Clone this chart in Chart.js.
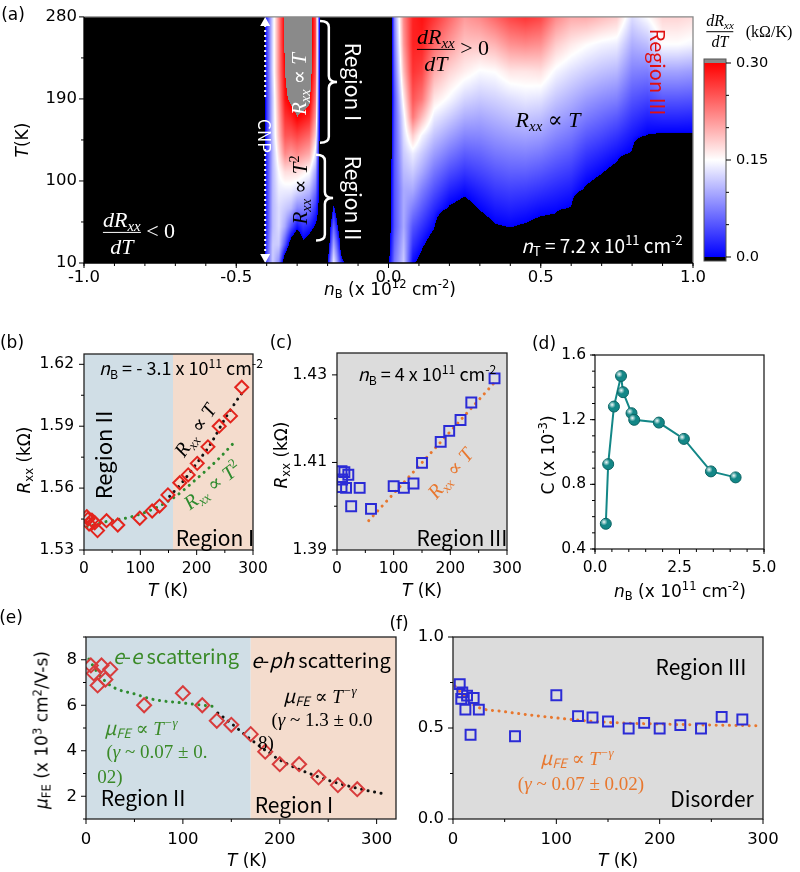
<!DOCTYPE html>
<html>
<head>
<meta charset="utf-8">
<script src="https://cdn.jsdelivr.net/npm/chart.js@4.4.1/dist/chart.umd.min.js"></script>
<style>
  html, body { margin: 0; padding: 0; background: #fff; }
  #page { position: relative; width: 800px; height: 872px; overflow: hidden; }
  #page canvas { position: absolute; left: 0; top: 0; }
  .t { position: absolute; white-space: nowrap; line-height: 1; transform: translate(-50%, -50%);
       font-family: 'DejaVu Sans', sans-serif; font-size: 17px; color: #000; }
  .r90  { transform: translate(-50%, -50%) rotate(90deg); }
  .rm90 { transform: translate(-50%, -50%) rotate(-90deg); }
  .k { font-family: 'Noto Sans CJK KR', 'Noto Sans', sans-serif; }
  .m { font-family: 'Liberation Serif', 'DejaVu Serif', serif; font-style: italic; }
  .u { font-style: normal; }
  .t sub { font-size: .68em; vertical-align: -.3em; line-height: 0; }
  .t sup { font-size: .68em; vertical-align: .55em; line-height: 0; }
  .frac { display: inline-flex; flex-direction: column; align-items: center; vertical-align: middle; line-height: 1.05; }
  .frac .den { border-top: 1.5px solid currentColor; padding-top: 2px; margin-top: 1px; align-self: stretch; text-align: center; }
</style>
</head>
<body>
<div id="page">
  <canvas id="cA"  width="800" height="872"></canvas>
  <canvas id="cCB" width="800" height="872"></canvas>
  <canvas id="cB"  width="800" height="872"></canvas>
  <canvas id="cC"  width="800" height="872"></canvas>
  <canvas id="cD"  width="800" height="872"></canvas>
  <canvas id="cE"  width="800" height="872"></canvas>
  <canvas id="cF"  width="800" height="872"></canvas>

  <!-- (a) -->
  <div class="t" style="left:13px;top:14px">(a)</div>
  <div class="t rm90" style="left:22px;top:140px"><i>T</i>(K)</div>
  <div class="t" style="left:390px;top:289px"><i>n</i><sub>B</sub> (x 10<sup>12</sup> cm<sup>-2</sup>)</div>
  <div class="t k r90" style="left:265px;top:136px;color:#fff;font-size:17px">CNP</div>
  <div class="t m rm90" style="left:299px;top:84px;color:#fff;font-size:21px">R<sub>xx</sub> <span class="u">∝</span> T</div>
  <div class="t m rm90" style="left:300px;top:190px;color:#000;font-size:21px">R<sub>xx</sub> <span class="u">∝</span> T<sup class="u">2</sup></div>
  <div class="t k r90" style="left:353px;top:82px;color:#fff;font-size:21px">Region I</div>
  <div class="t k r90" style="left:353px;top:198px;color:#fff;font-size:21px">Region II</div>
  <div class="t m" style="left:139px;top:233px;color:#fff;font-size:22px"><span class="frac"><span>dR<sub>xx</sub></span><span class="den">dT</span></span> <span class="u">&lt; 0</span></div>
  <div class="t m" style="left:453px;top:50px;color:#000;font-size:22px"><span class="frac"><span>dR<sub>xx</sub></span><span class="den">dT</span></span> <span class="u">&gt; 0</span></div>
  <div class="t m" style="left:548px;top:120px;color:#000;font-size:22px">R<sub>xx</sub> <span class="u">∝</span> T</div>
  <div class="t k r90" style="left:658px;top:72px;color:#e01010;font-size:20px">Region III</div>
  <div class="t k" style="left:602px;top:244px;color:#fff;font-size:19px"><i>n</i><sub>T</sub> = 7.2 x 10<sup>11</sup> cm<sup>-2</sup></div>
  <div class="t m" style="left:720px;top:32px;font-size:16px"><span class="frac"><span>dR<sub>xx</sub></span><span class="den">dT</span></span></div>
  <div class="t" style="left:769px;top:32px;font-size:16px;font-family:'Liberation Serif',serif">(kΩ/K)</div>

  <!-- (b) -->
  <div class="t" style="left:12px;top:342px">(b)</div>
  <div class="t rm90" style="left:24px;top:460px"><i>R</i><sub>xx</sub> (kΩ)</div>
  <div class="t" style="left:168px;top:590px"><i>T</i> (K)</div>
  <div class="t k" style="left:181px;top:367px;font-size:18px"><i>n</i><sub>B</sub> = - 3.1 x 10<sup>11</sup> cm<sup>-2</sup></div>
  <div class="t k rm90" style="left:102px;top:455px;font-size:22px">Region II</div>
  <div class="t m" style="left:195px;top:430px;font-size:20px;transform:translate(-50%,-50%) rotate(-56deg)">R<sub>xx</sub> <span class="u">∝</span> T</div>
  <div class="t m" style="left:212px;top:485px;font-size:20px;color:#2e8b2e;transform:translate(-50%,-50%) rotate(-37deg)">R<sub>xx</sub> <span class="u">∝</span> T<sup class="u">2</sup></div>
  <div class="t k" style="left:215px;top:537px;font-size:21px">Region I</div>

  <!-- (c) -->
  <div class="t" style="left:281px;top:342px">(c)</div>
  <div class="t rm90" style="left:281px;top:455px"><i>R</i><sub>xx</sub> (kΩ)</div>
  <div class="t" style="left:422px;top:590px"><i>T</i> (K)</div>
  <div class="t k" style="left:427px;top:373px;font-size:18px"><i>n</i><sub>B</sub> = 4 x 10<sup>11</sup> cm<sup>-2</sup></div>
  <div class="t m" style="left:450px;top:473px;font-size:20px;color:#e8772e;transform:translate(-50%,-50%) rotate(-50deg)">R<sub>xx</sub> <span class="u">∝</span> T</div>
  <div class="t k" style="left:462px;top:537px;font-size:21px">Region III</div>

  <!-- (d) -->
  <div class="t" style="left:544px;top:343px">(d)</div>
  <div class="t rm90" style="left:548px;top:455px">C (x 10<sup>-3</sup>)</div>
  <div class="t" style="left:680px;top:591px"><i>n</i><sub>B</sub> (x 10<sup>11</sup> cm<sup>-2</sup>)</div>

  <!-- (e) -->
  <div class="t" style="left:11px;top:617px">(e)</div>
  <div class="t rm90" style="left:42px;top:730px"><i>μ</i><sub>FE</sub> (x 10<sup>3</sup> cm<sup>2</sup>/V-s)</div>
  <div class="t" style="left:247px;top:860px"><i>T</i> (K)</div>
  <div class="t k" style="left:176px;top:656px;font-size:20px;color:#3a8a28"><i>e</i>-<i>e</i> scattering</div>
  <div class="t k" style="left:321px;top:660px;font-size:20px"><i>e</i>-<i>ph</i> scattering</div>
  <div class="t m" style="left:320px;top:695px;font-size:19px"><span class="k">μ<sub>FE</sub></span> <span class="u">∝</span> T<sup>−γ</sup></div>
  <div class="t m" style="left:322px;top:719px;font-size:19px"><span class="u">(</span>γ <span class="u">~ 1.3 ± 0.0</span></div>
  <div class="t m" style="left:266px;top:742px;font-size:19px"><span class="u">8)</span></div>
  <div class="t m" style="left:141px;top:727px;font-size:19px;color:#3a8a28"><span class="k">μ<sub>FE</sub></span> <span class="u">∝</span> T<sup>−γ</sup></div>
  <div class="t m" style="left:157px;top:751px;font-size:19px;color:#3a8a28"><span class="u">(</span>γ <span class="u">~ 0.07 ± 0.</span></div>
  <div class="t m" style="left:110px;top:776px;font-size:19px;color:#3a8a28"><span class="u">02)</span></div>
  <div class="t k" style="left:143px;top:797px;font-size:21px">Region II</div>
  <div class="t k" style="left:294px;top:804px;font-size:21px">Region I</div>

  <!-- (f) -->
  <div class="t" style="left:399px;top:623px">(f)</div>
  <div class="t" style="left:618px;top:860px"><i>T</i> (K)</div>
  <div class="t k" style="left:701px;top:666px;font-size:21px">Region III</div>
  <div class="t m" style="left:577px;top:757px;font-size:19px;color:#e8772e"><span class="k">μ<sub>FE</sub></span> <span class="u">∝</span> T<sup>−γ</sup></div>
  <div class="t m" style="left:581px;top:783px;font-size:19px;color:#e8772e"><span class="u">(</span>γ <span class="u">~ 0.07 ± 0.02)</span></div>
  <div class="t k" style="left:712px;top:798px;font-size:21px">Disorder</div>
</div>

<script>
/* ── (a) dR/dT colour map ─────────────────────────────────────── */
// nB columns (x 10^12 cm^-2) and T rows (K); mapV[col][row] in kΩ/K, < 0 shows black
const mapN = [-1.0, -0.42, -0.41, -0.40, -0.38, -0.36, -0.34, -0.32, -0.30, -0.28, -0.26, -0.24, -0.225,
              -0.21, -0.20, -0.19, -0.18, -0.17, -0.16, -0.14, -0.13, 0.0, 0.02, 0.05, 0.08, 0.11, 0.15,
              0.2, 0.25, 0.3, 0.35, 0.4, 0.45, 0.5, 0.55, 0.6, 0.65, 0.7, 0.75, 0.8, 0.85, 0.9, 0.95, 1.0];
const mapT = [10, 30, 50, 70, 90, 110, 130, 150, 170, 190, 220, 250, 280];
const mapV = [
  [-.3, -.3, -.3, -.3, -.3, -.3, -.3, -.3, -.3, -.3, -.3, -.3, -.3],
  [-.3, -.3, -.3, -.3, -.3, -.3, -.3, -.3, -.3, -.3, -.3, -.3, -.3],
  [-.04, -.04, -.04, -.04, -.04, -.04, -.04, -.04, -.04, -.04, -.04, -.04, -.04],
  [.05, .04, .03, .03, .03, .03, .03, .03, .03, .03, .03, .03, .03],
  [.12, .12, .11, .11, .11, .11, .11, .12, .12, .12, .13, .13, .13],
  [.08, .12, .13, .13, .14, .15, .17, .19, .20, .21, .22, .22, .22],
  [-.05, .05, .10, .12, .14, .17, .22, .25, .27, .29, .30, .31, .31],
  [-.10, -.03, .05, .11, .14, .17, .21, .25, .28, .31, .33, .33, .33],
  [-.10, -.06, .01, .08, .13, .17, .22, .26, .30, .32, .34, .34, .34],
  [-.10, -.01, .03, .08, .12, .16, .21, .25, .29, .32, .34, .35, .35],
  [-.10, -.03, .02, .07, .11, .15, .20, .24, .28, .31, .33, .34, .34],
  [-.10, -.05, -.005, .03, .07, .10, .14, .18, .21, .23, .25, .26, .26],
  [-.2, -.1, -.02, -.02, -.02, -.02, -.02, -.02, -.02, -.02, -.02, -.02, -.02],
  [-.2, -.2, -.2, -.2, -.2, -.2, -.2, -.2, -.2, -.2, -.2, -.2, -.2],
  [0, -.05, -.2, -.2, -.2, -.2, -.2, -.2, -.2, -.2, -.2, -.2, -.2],
  [.08, .04, .01, -.05, -.2, -.2, -.2, -.2, -.2, -.2, -.2, -.2, -.2],
  [.14, .10, .06, .015, -.05, -.2, -.2, -.2, -.2, -.2, -.2, -.2, -.2],
  [.10, .06, .02, -.03, -.2, -.2, -.2, -.2, -.2, -.2, -.2, -.2, -.2],
  [.05, .01, -.03, -.2, -.2, -.2, -.2, -.2, -.2, -.2, -.2, -.2, -.2],
  [-.01, -.2, -.2, -.2, -.2, -.2, -.2, -.2, -.2, -.2, -.2, -.2, -.2],
  [-.2, -.2, -.2, -.2, -.2, -.2, -.2, -.2, -.2, -.2, -.2, -.2, -.2],
  [-.008, -.02, -.03, -.035, -.04, -.045, -.05, -.06, -.07, -.08, -.09, -.10, -.12],
  [.07, .06, .05, .05, .05, .05, .05, .05, .05, .05, .06, .07, .08],
  [.12, .11, .10, .10, .10, .11, .12, .13, .14, .16, .19, .21, .22],
  [.005, .03, .05, .075, .10, .12, .14, .18, .23, .25, .27, .28, .28],
  [-.016, .007, .03, .053, .075, .10, .12, .145, .19, .23, .26, .28, .29],
  [-.2, -.025, .003, .025, .048, .07, .093, .116, .139, .165, .20, .24, .27],
  [-.2, -.2, -.1, -.004, .021, .046, .071, .096, .121, .146, .175, .21, .24],
  [-.2, -.2, -.1, -.015, .008, .032, .055, .079, .103, .126, .16, .185, .21],
  [-.2, -.15, -.018, .002, .021, .041, .06, .08, .099, .119, .148, .185, .22],
  [-.2, -.1, -.003, .015, .033, .051, .07, .088, .106, .124, .151, .195, .24],
  [-.2, -.019, .001, .02, .038, .057, .075, .094, .113, .131, .165, .215, .26],
  [-.2, -.1, -.004, .016, .036, .057, .077, .097, .117, .137, .165, .22, .27],
  [-.2, -.15, -.012, .009, .03, .051, .072, .093, .113, .134, .168, .215, .26],
  [-.2, -.15, -.014, .005, .023, .042, .061, .08, .098, .117, .145, .18, .22],
  [-.2, -.2, -.1, -.002, .016, .034, .052, .07, .088, .105, .132, .163, .20],
  [-.2, -.2, -.2, -.1, -.006, .014, .033, .053, .073, .092, .122, .152, .20],
  [-.2, -.2, -.2, -.1, -.018, .002, .022, .043, .063, .083, .114, .144, .19],
  [-.2, -.2, -.2, -.2, -.1, -.012, .010, .031, .053, .076, .108, .14, .18],
  [-.2, -.2, -.2, -.2, -.2, -.1, -.0035, .014, .032, .05, .077, .103, .13],
  [-.2, -.2, -.2, -.2, -.2, -.2, -.1, -.001, .02, .041, .074, .112, .15],
  [-.2, -.2, -.2, -.2, -.2, -.2, -.1, -.004, .024, .052, .096, .150, .175],
  [-.2, -.2, -.2, -.2, -.2, -.2, -.1, -.004, .024, .052, .096, .150, .175],
  [-.2, -.2, -.2, -.2, -.2, -.2, -.1, -.004, .022, .05, .092, .145, .17]
];
const cbTicks = [0, 0.15, 0.30];

/* ── (b) Rxx vs T at nB = -3.1e11 ─────────────────────────────── */
const bT    = [5, 7, 9, 14, 19, 24, 40, 60, 99, 121, 134, 149, 170, 185, 201, 220, 240, 260, 280];
const bR    = [1.5462, 1.5450, 1.5426, 1.5445, 1.5432, 1.5394, 1.5442, 1.5421, 1.5454, 1.5489, 1.5513,
               1.5567, 1.5626, 1.5664, 1.5720, 1.5800, 1.5900, 1.5950, 1.6089];
const bLinT = [152, 175, 200, 225, 250, 275, 285];
const bLinR = [1.5560, 1.5630, 1.5720, 1.5815, 1.5935, 1.6040, 1.6078];
const bSqT  = [5, 40, 80, 120, 160, 200, 240, 265];
const bSqR  = [1.5412, 1.5438, 1.5458, 1.5495, 1.5555, 1.5645, 1.5745, 1.5817];
const bRegionEdge = 158;

/* ── (c) Rxx vs T at nB = 4e11 ────────────────────────────────── */
const cT    = [8, 13, 9, 8, 20, 16, 25, 40, 60, 100, 118, 135, 150, 183, 198, 218, 237, 278];
const cR    = [1.4080, 1.4078, 1.4061, 1.4044, 1.4072, 1.4042, 1.4000, 1.4042, 1.3994, 1.4046, 1.4042,
               1.4052, 1.4099, 1.4147, 1.4172, 1.4197, 1.4237, 1.4292];
const cFitT = [56, 170, 281];
const cFitR = [1.3967, 1.4128, 1.4287];

/* ── (d) C vs nB ──────────────────────────────────────────────── */
const dN = [0.32, 0.39, 0.56, 0.77, 0.83, 1.08, 1.16, 1.89, 2.63, 3.43, 4.16];
const dC = [0.556, 0.925, 1.281, 1.470, 1.370, 1.240, 1.199, 1.182, 1.081, 0.880, 0.843];

/* ── (e) mobility, nB = -3.1e11 ───────────────────────────────── */
const eT    = [5, 8, 16, 12, 20, 25, 60, 100, 120, 135, 150, 170, 185, 200, 220, 240, 260, 280];
const eMu   = [7.75, 7.40, 7.75, 6.87, 7.13, 7.58, 6.00, 6.53, 6.00, 5.32, 5.14, 4.73, 3.96, 3.41, 3.41, 2.83, 2.49, 2.31];
const eEeT  = [3, 10, 20, 30, 50, 70, 100, 135];
const eEeMu = [8.03, 7.55, 7.05, 6.75, 6.50, 6.25, 6.10, 5.93];
const ePhT  = [136, 150, 170, 200, 240, 280, 308];
const ePhMu = [5.66, 5.20, 4.50, 3.60, 2.85, 2.35, 2.10];
const eRegionEdge = 170;

/* ── (f) mobility, nB = 4e11 ──────────────────────────────────── */
const fT    = [6.5, 9, 8, 13.6, 12, 20, 25, 17, 60, 100, 121, 135, 150, 170, 185, 200, 220, 240, 260, 280];
const fMu   = [0.741, 0.696, 0.660, 0.678, 0.601, 0.665, 0.601, 0.463, 0.455, 0.680, 0.565, 0.558, 0.536,
               0.497, 0.528, 0.497, 0.516, 0.497, 0.561, 0.547];
const fFitT  = [2, 10, 22, 50, 77, 142, 206, 295];
const fFitMu = [0.73, 0.68, 0.62, 0.59, 0.57, 0.534, 0.521, 0.512];

/* ── colours ──────────────────────────────────────────────────── */
const RED = '#e3241d', BLUE = '#2b2bd6', ERED = '#d83c3c', TEAL = '#138787';
const GREEN = '#2e8b2e', ORANGE = '#e8772e', BLACK = '#111';
const REGION2 = '#d0dee6', REGION1 = '#f4dccd', GREY = '#dcdcdc';

/* ── helpers ──────────────────────────────────────────────────── */
const pts = (xs, ys) => xs.map((v, i) => ({ x: v, y: ys[i] }));

function steps(min, max, step) {
  const out = [];
  for (let v = min; v <= max + 1e-9; v += step) out.push(+v.toFixed(6));
  return out;
}

function axis(o) {
  return {
    type: 'linear', position: o.pos, min: o.min, max: o.max, display: !o.hidden,
    grid: { display: false, drawTicks: false }, border: { display: false },
    afterBuildTicks: s => { s.ticks = o.labels.map(v => ({ value: v })); },
    afterFit: s => { if (o.pos === 'left' || o.pos === 'right') s.width = o.size; else s.height = o.size; },
    ticks: { padding: o.pad, color: '#000', autoSkip: false, maxRotation: 0,
             font: { family: 'DejaVu Sans', size: o.font }, callback: o.fmt }
  };
}

function markers(xs, ys, style, color, r) {
  return { data: pts(xs, ys), showLine: false, pointStyle: style, pointRadius: r,
           pointBorderColor: color, pointBorderWidth: 2, pointBackgroundColor: 'rgba(0,0,0,0)' };
}

function dotted(xs, ys, color) {
  return { data: pts(xs, ys), showLine: true, pointRadius: 0, borderColor: color, borderWidth: 3,
           borderDash: [0.1, 6.5], borderCapStyle: 'round', cubicInterpolationMode: 'monotone' };
}

// frame, shaded bands and outward tick marks (major + minor)
function framePlugin(spec) {
  return {
    id: 'frame',
    beforeDatasetsDraw(chart) {
      const { ctx, chartArea: a, scales: { x } } = chart;
      (spec.bands || []).forEach(b => {
        const x0 = x.getPixelForValue(b.from), x1 = x.getPixelForValue(b.to);
        ctx.fillStyle = b.color;
        ctx.fillRect(x0, a.top, x1 - x0, a.bottom - a.top);
      });
    },
    afterDatasetsDraw(chart) {
      const { ctx, chartArea: a, scales: { x, y } } = chart;
      ctx.save();
      ctx.lineWidth = 1.3;
      if (spec.heat) {
        ctx.strokeStyle = '#888';
        ctx.beginPath();
        ctx.moveTo(a.left, a.top); ctx.lineTo(a.right, a.top); ctx.lineTo(a.right, a.bottom);
        ctx.stroke();
        ctx.strokeStyle = '#000';
        ctx.beginPath();
        ctx.moveTo(a.left, a.top); ctx.lineTo(a.left, a.bottom); ctx.lineTo(a.right, a.bottom);
        ctx.stroke();
      } else {
        ctx.strokeStyle = '#222';
        ctx.strokeRect(a.left, a.top, a.right - a.left, a.bottom - a.top);
      }
      ctx.strokeStyle = '#000';
      ctx.lineWidth = 1;
      const tick = (px, py, dx, dy) => { ctx.beginPath(); ctx.moveTo(px, py); ctx.lineTo(px + dx, py + dy); ctx.stroke(); };
      spec.xMinor.forEach(v => tick(x.getPixelForValue(v), a.bottom, 0, 3));
      spec.xMajor.forEach(v => tick(x.getPixelForValue(v), a.bottom, 0, 5));
      spec.yMinor.forEach(v => tick(a.left, y.getPixelForValue(v), -3, 0));
      spec.yMajor.forEach(v => tick(a.left, y.getPixelForValue(v), -5, 0));
      ctx.restore();
    }
  };
}

function makeChart(id, box, xa, ya, datasets, plugins) {
  const right = ya.pos === 'right';
  return new Chart(document.getElementById(id), {
    type: 'scatter',
    data: { datasets },
    options: {
      responsive: false, animation: false, events: [],
      layout: { padding: {
        left: right ? box.l : box.l - ya.size,
        right: right ? 800 - box.r - ya.size : 800 - box.r,
        top: box.t,
        bottom: xa.hidden ? 872 - box.b : 872 - box.b - xa.size
      } },
      plugins: { legend: { display: false }, tooltip: { enabled: false } },
      scales: { x: axis(xa), y: axis(ya) }
    },
    plugins
  });
}

/* ── (a) colour map ───────────────────────────────────────────── */
function locate(arr, v) {
  let i = 0;
  while (i < arr.length - 2 && v > arr[i + 1]) i++;
  const f = Math.min(1, Math.max(0, (v - arr[i]) / (arr[i + 1] - arr[i])));
  return [i, f];
}

function colorOf(v) {
  if (v < 0) return [0, 0, 0];
  if (v <= 0.15) { const t = v / 0.15; return [255 * t, 255 * t, 255]; }
  if (v <= 0.30) { const t = (v - 0.15) / 0.15; return [255, 255 * (1 - t), 255 * (1 - t)]; }
  return [138, 138, 138];
}

const heatPlugin = {
  id: 'heat',
  beforeDatasetsDraw(chart) {
    const { ctx, chartArea: a, scales: { x, y } } = chart;
    const w = Math.round(a.right - a.left), h = Math.round(a.bottom - a.top);
    const off = document.createElement('canvas');
    off.width = w; off.height = h;
    const octx = off.getContext('2d');
    const img = octx.createImageData(w, h);
    const cols = [], rows = [];
    for (let i = 0; i < w; i++) cols.push(locate(mapN, x.getValueForPixel(a.left + i + 0.5)));
    for (let j = 0; j < h; j++) rows.push(locate(mapT, y.getValueForPixel(a.top + j + 0.5)));
    for (let j = 0; j < h; j++) {
      const [r, rf] = rows[j];
      for (let i = 0; i < w; i++) {
        const [c, cf] = cols[i];
        const lo = mapV[c][r] * (1 - cf) + mapV[c + 1][r] * cf;
        const hi = mapV[c][r + 1] * (1 - cf) + mapV[c + 1][r + 1] * cf;
        const rgb = colorOf(lo * (1 - rf) + hi * rf);
        const k = (j * w + i) * 4;
        img.data[k] = rgb[0]; img.data[k + 1] = rgb[1]; img.data[k + 2] = rgb[2]; img.data[k + 3] = 255;
      }
    }
    octx.putImageData(img, 0, 0);
    ctx.drawImage(off, a.left, a.top);
  },
  afterDatasetsDraw(chart) {
    const { ctx, chartArea: a, scales: { x, y } } = chart;
    ctx.save();
    // CNP marker
    const cx = x.getPixelForValue(-0.405);
    ctx.strokeStyle = '#fff'; ctx.fillStyle = '#fff'; ctx.lineWidth = 2;
    ctx.setLineDash([2, 3]);
    ctx.beginPath();
    ctx.moveTo(cx, a.top + 8); ctx.lineTo(cx, y.getPixelForValue(190));
    ctx.moveTo(cx, y.getPixelForValue(135)); ctx.lineTo(cx, a.bottom - 8);
    ctx.stroke();
    ctx.setLineDash([]);
    ctx.beginPath();
    ctx.moveTo(cx, a.top); ctx.lineTo(cx - 5, a.top + 9); ctx.lineTo(cx + 5, a.top + 9); ctx.closePath();
    ctx.moveTo(cx, a.bottom); ctx.lineTo(cx - 5, a.bottom - 9); ctx.lineTo(cx + 5, a.bottom - 9); ctx.closePath();
    ctx.fill();
    // region braces
    const brace = (nl, nv, nc, t0, tm, t1) => {
      const xl = x.getPixelForValue(nl), xv = x.getPixelForValue(nv), xc = x.getPixelForValue(nc);
      const y0 = y.getPixelForValue(t0), ym = y.getPixelForValue(tm), y1 = y.getPixelForValue(t1);
      const r = 6;
      ctx.beginPath();
      ctx.moveTo(xl, y0);
      ctx.quadraticCurveTo(xv, y0, xv, y0 + r);
      ctx.lineTo(xv, ym - r);
      ctx.quadraticCurveTo(xv, ym, xc, ym);
      ctx.quadraticCurveTo(xv, ym, xv, ym + r);
      ctx.lineTo(xv, y1 - r);
      ctx.quadraticCurveTo(xv, y1, xl, y1);
      ctx.stroke();
    };
    ctx.lineWidth = 2.5;
    brace(-0.225, -0.196, -0.169, 275.5, 208.7, 141.8);
    brace(-0.238, -0.209, -0.182, 128.8, 81.3, 34.8);
    ctx.restore();
  }
};

makeChart('cA', { l: 84, r: 693, t: 13, b: 263 },
  { pos: 'bottom', min: -1, max: 1, labels: [-1, -0.5, 0, 0.5, 1], size: 30, pad: 5, font: 16.5, fmt: v => v.toFixed(1) },
  { pos: 'left', min: 10, max: 280, labels: [10, 100, 190, 280], size: 60, pad: 7, font: 16.5, fmt: v => String(v) },
  [{ data: [] }],
  [heatPlugin, framePlugin({ heat: true, xMajor: [-1, -0.5, 0, 0.5, 1], xMinor: steps(-1, 1, 0.1),
                             yMajor: [10, 100, 190, 280], yMinor: [55, 145, 235] })]);

/* ── colour bar ───────────────────────────────────────────────── */
const cbPlugin = {
  id: 'cb',
  beforeDatasetsDraw(chart) {
    const { ctx, chartArea: a, scales: { y } } = chart;
    const y0 = y.getPixelForValue(cbTicks[0]), y2 = y.getPixelForValue(cbTicks[2]);
    const g = ctx.createLinearGradient(0, y0, 0, y2);
    g.addColorStop(0, 'rgb(0,0,255)'); g.addColorStop(0.5, '#fff'); g.addColorStop(1, 'rgb(255,0,0)');
    ctx.save();
    ctx.fillStyle = '#8a8a8a'; ctx.fillRect(a.left, a.top, a.right - a.left, y2 - a.top);
    ctx.fillStyle = g;         ctx.fillRect(a.left, y2, a.right - a.left, y0 - y2);
    ctx.fillStyle = '#000';    ctx.fillRect(a.left, y0, a.right - a.left, a.bottom - y0);
    ctx.strokeStyle = '#555'; ctx.lineWidth = 1;
    ctx.strokeRect(a.left, a.top, a.right - a.left, a.bottom - a.top);
    ctx.strokeStyle = '#000';
    steps(0, 0.3, 0.05).forEach(v => {
      const py = y.getPixelForValue(v), major = cbTicks.some(t => Math.abs(t - v) < 1e-6);
      ctx.beginPath(); ctx.moveTo(a.right, py); ctx.lineTo(a.right + (major ? 5 : 3), py); ctx.stroke();
    });
    ctx.restore();
  }
};

makeChart('cCB', { l: 704, r: 726, t: 59, b: 261 },
  { pos: 'bottom', hidden: true, min: 0, max: 1, labels: [], size: 0, pad: 0, font: 10 },
  { pos: 'right', min: -0.0062, max: 0.3062, labels: cbTicks, size: 70, pad: 10, font: 14.5,
    fmt: v => (v === 0 ? '0.0' : v.toFixed(2)) },
  [{ data: [] }],
  [cbPlugin]);

/* ── (b) ──────────────────────────────────────────────────────── */
makeChart('cB', { l: 84, r: 253, t: 354, b: 550 },
  { pos: 'bottom', min: 0, max: 300, labels: [0, 100, 200, 300], size: 30, pad: 10, font: 15.5, fmt: v => String(v) },
  { pos: 'left', min: 1.53, max: 1.625, labels: [1.53, 1.56, 1.59, 1.62], size: 60, pad: 10, font: 15.5, fmt: v => v.toFixed(2) },
  [markers(bT, bR, 'rectRot', RED, 6.5), dotted(bLinT, bLinR, BLACK), dotted(bSqT, bSqR, GREEN)],
  [framePlugin({ bands: [{ from: 0, to: bRegionEdge, color: REGION2 }, { from: bRegionEdge, to: 300, color: REGION1 }],
                 xMajor: [0, 100, 200, 300], xMinor: [50, 150, 250],
                 yMajor: [1.53, 1.56, 1.59, 1.62], yMinor: [1.545, 1.575, 1.605] })]);

/* ── (c) ──────────────────────────────────────────────────────── */
makeChart('cC', { l: 337, r: 507, t: 353, b: 550 },
  { pos: 'bottom', min: 0, max: 300, labels: [0, 100, 200, 300], size: 30, pad: 10, font: 15.5, fmt: v => String(v) },
  { pos: 'left', min: 1.39, max: 1.435, labels: [1.39, 1.41, 1.43], size: 60, pad: 10, font: 15.5, fmt: v => v.toFixed(2) },
  [markers(cT, cR, 'rect', BLUE, 7), dotted(cFitT, cFitR, ORANGE)],
  [framePlugin({ bands: [{ from: 0, to: 300, color: GREY }],
                 xMajor: [0, 100, 200, 300], xMinor: [50, 150, 250],
                 yMajor: [1.39, 1.41, 1.43], yMinor: [1.40, 1.42] })]);

/* ── (d) ──────────────────────────────────────────────────────── */
const shinePlugin = {
  id: 'shine',
  afterDatasetsDraw(chart) {
    const { ctx } = chart;
    ctx.save();
    chart.getDatasetMeta(0).data.forEach(p => {
      const g = ctx.createRadialGradient(p.x - 1.8, p.y - 1.8, 0, p.x - 1.8, p.y - 1.8, 3.5);
      g.addColorStop(0, 'rgba(255,255,255,0.95)'); g.addColorStop(1, 'rgba(255,255,255,0)');
      ctx.fillStyle = g;
      ctx.beginPath(); ctx.arc(p.x - 1.8, p.y - 1.8, 3.5, 0, Math.PI * 2); ctx.fill();
    });
    ctx.restore();
  }
};

makeChart('cD', { l: 595, r: 764, t: 355, b: 549 },
  { pos: 'bottom', min: 0, max: 5, labels: [0, 2.5, 5], size: 30, pad: 10, font: 15.5, fmt: v => v.toFixed(1) },
  { pos: 'left', min: 0.4, max: 1.6, labels: [0.4, 0.8, 1.2, 1.6], size: 60, pad: 9, font: 15.5, fmt: v => v.toFixed(1) },
  [{ data: pts(dN, dC), showLine: true, borderColor: TEAL, borderWidth: 2, pointRadius: 5.5,
     pointBackgroundColor: TEAL, pointBorderColor: '#0c6464', pointBorderWidth: 1 }],
  [framePlugin({ xMajor: [0, 2.5, 5], xMinor: steps(0, 5, 0.5), yMajor: [0.4, 0.8, 1.2, 1.6], yMinor: steps(0.4, 1.6, 0.1) }),
   shinePlugin]);

/* ── (e) ──────────────────────────────────────────────────────── */
makeChart('cE', { l: 86, r: 396, t: 637, b: 819 },
  { pos: 'bottom', min: 0, max: 320, labels: [0, 100, 200, 300], size: 30, pad: 11, font: 16.5, fmt: v => String(v) },
  { pos: 'left', min: 1, max: 9, labels: [2, 4, 6, 8], size: 60, pad: 9, font: 16.5, fmt: v => String(v) },
  [markers(eT, eMu, 'rectRot', ERED, 7), dotted(eEeT, eEeMu, GREEN), dotted(ePhT, ePhMu, BLACK)],
  [framePlugin({ bands: [{ from: 0, to: eRegionEdge, color: REGION2 }, { from: eRegionEdge, to: 320, color: REGION1 }],
                 xMajor: [0, 100, 200, 300], xMinor: [50, 150, 250],
                 yMajor: [2, 4, 6, 8], yMinor: [1, 3, 5, 7, 9] })]);

/* ── (f) ──────────────────────────────────────────────────────── */
makeChart('cF', { l: 453, r: 763, t: 637, b: 819 },
  { pos: 'bottom', min: 0, max: 300, labels: [0, 100, 200, 300], size: 30, pad: 11, font: 16.5, fmt: v => String(v) },
  { pos: 'left', min: 0, max: 1, labels: [0, 0.5, 1], size: 60, pad: 9, font: 16.5, fmt: v => v.toFixed(1) },
  [markers(fT, fMu, 'rect', BLUE, 7), dotted(fFitT, fFitMu, ORANGE)],
  [framePlugin({ bands: [{ from: 0, to: 300, color: GREY }],
                 xMajor: [0, 100, 200, 300], xMinor: [50, 150, 250],
                 yMajor: [0, 0.5, 1], yMinor: [0.25, 0.75] })]);
</script>
</body>
</html>
